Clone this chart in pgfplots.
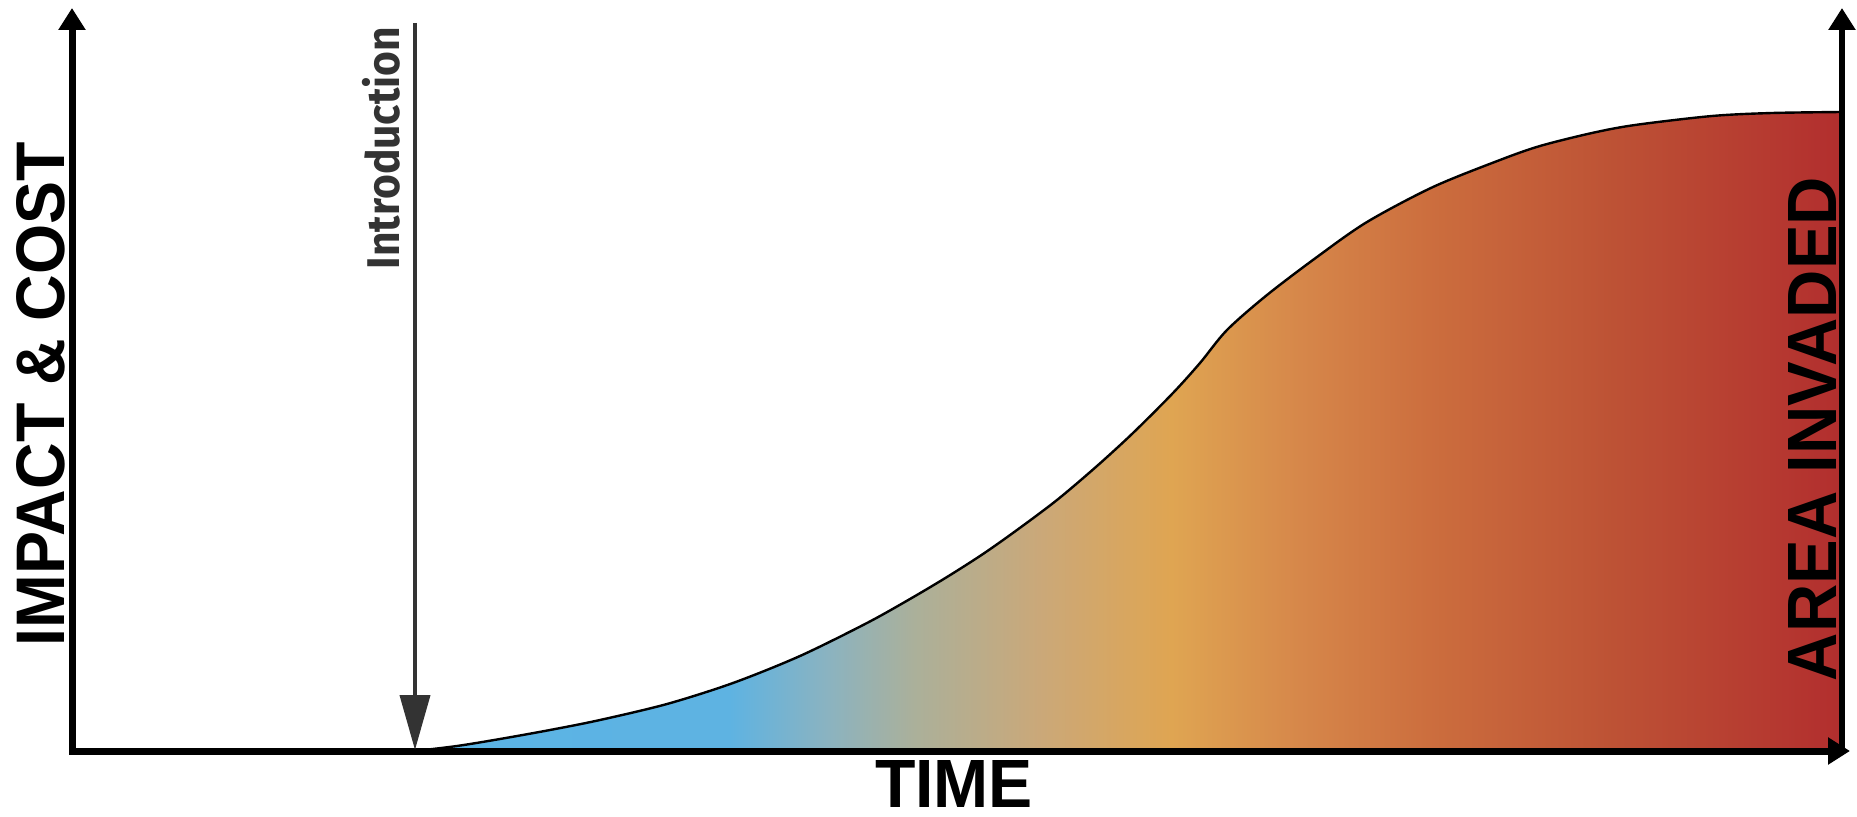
\documentclass[border=0pt]{standalone}
\usepackage{pgfplots}
\pgfplotsset{compat=1.18}
\usepackage{graphicx}
\usepackage{fontspec}
\setmainfont{Liberation Sans}
\newfontfamily\introfont{Fira Sans}
\usetikzlibrary{arrows.meta}
\definecolor{c0}{HTML}{5AB4E6}
\definecolor{c1}{HTML}{5EB3E2}
\definecolor{c1b}{HTML}{8BB3C0}
\definecolor{c2}{HTML}{ABB09A}
\definecolor{c3}{HTML}{CBA878}
\definecolor{c4}{HTML}{DFA552}
\definecolor{c5}{HTML}{D6874A}
\definecolor{c6}{HTML}{CC6E3E}
\definecolor{c7}{HTML}{BD5235}
\definecolor{c8}{HTML}{B22E2E}
\definecolor{introgray}{HTML}{333333}
\pgfdeclarehorizontalshading{invshade}{100bp}{color(0bp)=(c0); color(25bp)=(c0); color(36bp)=(c1); color(39.5bp)=(c1b); color(42.5bp)=(c2); color(47bp)=(c3); color(51.5bp)=(c4); color(56bp)=(c5); color(60.5bp)=(c6); color(67bp)=(c7); color(75bp)=(c8); color(100bp)=(c8)}
\pgfplotstableread{
t h
343 0
385 5
428 12
478 21
528 31
595 47
661 68
728 95
795 128
838 152
875 174
911 197
945 221
985 251
1025 285
1061 318
1101 358
1128 388
1155 421
1195 456
1245 494
1295 529
1361 564
1428 591
1468 605
1520 618
1563 626
1640 635
1700 638
1770 639
}\invaded
\begin{document}
\begin{tikzpicture}
\begin{axis}[
  scale only axis,
  width=464.25pt, height=204pt,
  xmin=-72, xmax=1785, ymin=-65, ymax=751,
  hide axis, clip=false,
]
\addplot[draw=black, line width=0.6pt, shading=invshade, smooth] table[x=t,y=h] {\invaded} \closedcycle;
% axes
\draw[line width=1.75pt, line cap=rect] (axis cs:0,0) -- (axis cs:0,730);
\draw[line width=1.75pt, -{Triangle[length=5.5pt,width=6.5pt]}] (axis cs:0,700) -- (axis cs:0,743);
\draw[line width=1.75pt, line cap=rect] (axis cs:0,0) -- (axis cs:1760,0);
\draw[line width=1.75pt, -{Triangle[length=5.5pt,width=6.5pt]}] (axis cs:1700,0) -- (axis cs:1778,0);
\draw[line width=1.6pt, -{Triangle[length=5.5pt,width=6.5pt]}] (axis cs:1770,0) -- (axis cs:1770,743);
% introduction arrow
\draw[color=introgray, line width=1pt, -{Triangle[length=13.75pt,width=7.5pt]}] (axis cs:343,728) -- (axis cs:343,1);
\node[rotate=90, inner sep=0pt, text=introgray] at (axis cs:309,603) {\resizebox{60.5pt}{9.3pt}{\introfont\bfseries Introduction}};
% labels
\node[rotate=90, inner sep=0pt] at (axis cs:-31,357) {\resizebox{126pt}{12pt}{\bfseries IMPACT \& COST}};
\node[rotate=90, inner sep=0pt] at (axis cs:1740,322) {\resizebox{126pt}{12pt}{\bfseries AREA INVADED}};
\node[inner sep=0pt] at (axis cs:882,-33) {\resizebox{39.5pt}{11.75pt}{\bfseries TIME}};
\path (rel axis cs:0,0) rectangle (rel axis cs:1,1);
\end{axis}
\end{tikzpicture}
\end{document}
